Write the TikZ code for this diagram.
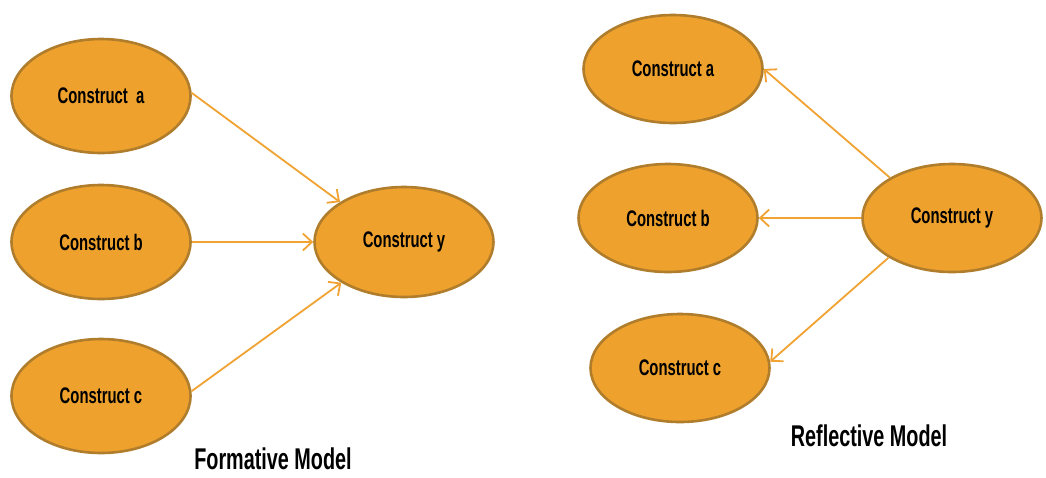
\documentclass[tikz,border=0pt]{standalone}
\usepackage{fontspec}
\setmainfont{Liberation Sans}[FakeStretch=0.66]
\usetikzlibrary{shapes.geometric,arrows.meta}
\definecolor{cfill}{HTML}{EEA22D}
\definecolor{cedge}{HTML}{B07D2C}
\definecolor{cline}{HTML}{F0A232}
\begin{document}
\begin{tikzpicture}[x=1pt,y=-1pt,
  construct/.style={ellipse, draw=cedge, fill=cfill, line width=2.6pt,
    minimum width=179pt, minimum height=114pt, inner sep=0pt,
    font=\bfseries\fontsize{22.5}{24}\selectfont},
  link/.style={draw=cline, line width=1.8pt,
    -{Straight Barb[length=9pt,width=17pt,line width=1.8pt]}},
  caption/.style={font=\bfseries\fontsize{30}{32}\selectfont,
    inner sep=0pt, text depth=0pt, anchor=base}]
\useasboundingbox (0,0) rectangle (1046,477);

% formative model
\node[construct] (fa) at (101,96) {Construct~~a};
\node[construct] (fb) at (101,242) {Construct b};
\node[construct] (fc) at (101,396) {Construct c};
\node[construct, minimum height=110pt] (fy) at (404,242) {Construct y};
\draw[link] (fa.2) -- (fy.148);
\draw[link] (fb.east) -- (fy.west);
\draw[link] (fc.3) -- (fy.213);
\node[caption] (fm) at (273,469) {Formative Model};

% reflective model
\node[construct, minimum height=108pt] (ra) at (673,69) {Construct a};
\node[construct, minimum height=108pt] (rb) at (668,218) {Construct b};
\node[construct, minimum height=108pt] (rc) at (680,368) {Construct c};
\node[construct, minimum height=108pt] (ry) at (952,218) {Construct y};
\draw[link] (ry.147) -- (ra.east);
\draw[link] (ry.west) -- (rb.east);
\draw[link] (ry.212) -- (rc.4);
\node[caption] (rm) at (869,446) {Reflective Model};
\end{tikzpicture}
\end{document}
